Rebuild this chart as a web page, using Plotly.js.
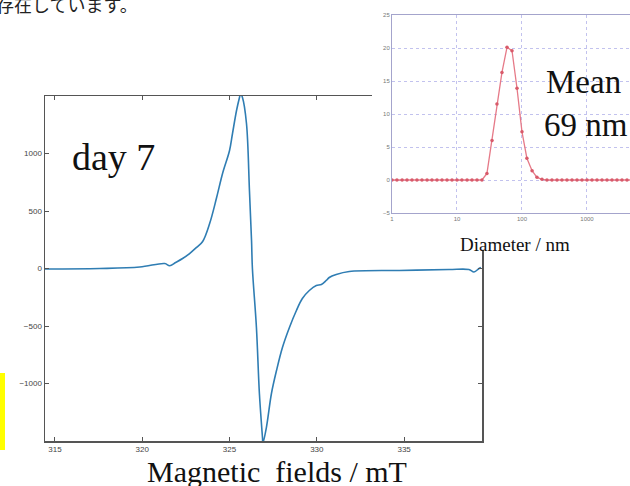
<!DOCTYPE html>
<html>
<head>
<meta charset="utf-8">
<script src="https://cdn.plot.ly/plotly-3.0.1.min.js"></script>
<style>html,body{margin:0;padding:0;background:#fff;}#chart{width:630px;height:486px;}</style>
</head>
<body>
<div id="chart"></div>
<script>
// Main EPR spectrum (day 7)
const fieldMT = [314.43, 317.57, 319.86, 321.29, 321.57, 321.91, 322.31, 322.71, 323.11, 323.46,
  323.86, 324.26, 324.6, 325.0, 325.17, 325.4, 325.57, 325.63, 325.74, 325.97,
  326.14, 326.26, 326.31, 326.54, 326.71, 326.89, 326.91, 327.11, 327.4, 327.69,
  328.03, 328.43, 328.83, 329.17, 329.57, 329.97, 330.26, 330.54, 330.71, 331.11,
  331.86, 334.71, 337.57, 338.71, 339.0, 339.29, 339.4];
const eprSignal = [-4, 0, 13, 43, 24, 52, 87, 130, 183, 235,
  391, 617, 826, 1026, 1174, 1374, 1487, 1520, 1487, 1261,
  678, 243, 0, -513, -1087, -1478, -1520, -1383, -1087, -887,
  -687, -513, -365, -261, -191, -148, -139, -104, -78, -52,
  -26, -17, -9, -9, -30, 0, 9];
const fieldTicks = [315, 320, 325, 330, 335];
const signalTicks = [-1000, -500, 0, 500, 1000];

// Inset: particle size distribution
const diameterNm = [1.00, 1.19, 1.43, 1.70, 2.03, 2.42, 2.89, 3.46, 4.12, 4.92,
  5.88, 7.02, 8.38, 10.0, 11.9, 14.3, 17.0, 20.3, 24.2, 28.9,
  34.6, 41.2, 49.2, 58.8, 70.2, 83.8, 100, 119, 143, 170,
  203, 242, 289, 346, 412, 492, 588, 702, 838, 1000,
  1194, 1425, 1701, 2031, 2424, 2894, 3455, 4125, 4924];
const distribution = [0, 0, 0, 0, 0, 0, 0, 0, 0, 0,
  0, 0, 0, 0, 0, 0, 0, 0, 0, 1.0,
  6.0, 11.5, 16.3, 20.1, 19.6, 13.9, 7.3, 3.3, 1.4, 0.4,
  0.1, 0, 0, 0, 0, 0, 0, 0, 0, 0,
  0, 0, 0, 0, 0, 0, 0, 0, 0];
const diameterTicks = [1, 10, 100, 1000];
const diameterTickText = ['1', '10', '100', '1000'];
const distTicks = [-5, 0, 5, 10, 15, 20, 25];

const W = 630, H = 486;
const px = v => v / W;
const py = v => 1 - v / H;

const traces = [
  {x: fieldMT, y: eprSignal, xaxis: 'x', yaxis: 'y', mode: 'lines',
   line: {color: '#2f7db3', width: 1.6, shape: 'spline', smoothing: 1.0}, hoverinfo: 'skip'},
  {x: [], y: [], xaxis: 'x2', yaxis: 'y2', mode: 'lines', hoverinfo: 'skip'},
  {x: diameterNm, y: distribution, xaxis: 'x3', yaxis: 'y3', mode: 'lines+markers',
   line: {color: '#e67a88', width: 1.3},
   marker: {symbol: 'circle', size: 3.5, color: '#d85a6a'}, hoverinfo: 'skip'}
];

const tickFont = {family: 'Liberation Sans, Arial, sans-serif', size: 8, color: '#444'};
const insetFont = {family: 'Liberation Sans, Arial, sans-serif', size: 6, color: '#777'};
const serif = 'Liberation Serif, Times New Roman, serif';

const layout = {
  width: W, height: H,
  margin: {l: 0, r: 0, t: 0, b: 0},
  paper_bgcolor: '#ffffff', plot_bgcolor: '#ffffff',
  showlegend: false,
  xaxis: {domain: [px(45), px(482)], range: [314.43, 339.46], anchor: 'y',
    tickvals: fieldTicks, ticks: 'inside', ticklen: 4, tickcolor: '#555', tickwidth: 1,
    showline: true, linecolor: '#555', linewidth: 1.5, mirror: 'ticks',
    showgrid: false, zeroline: false, tickfont: tickFont, automargin: false},
  yaxis: {domain: [py(441), py(96)], range: [-1500, 1500], anchor: 'x',
    tickvals: signalTicks, ticks: 'inside', ticklen: 4, tickcolor: '#555', tickwidth: 1,
    showline: true, linecolor: '#555', linewidth: 1.5, mirror: 'ticks',
    showgrid: false, zeroline: false, tickfont: tickFont, automargin: false},
  xaxis2: {domain: [px(372), 1], range: [0, 1], anchor: 'y2',
    showline: false, showgrid: false, zeroline: false, showticklabels: false, ticks: ''},
  yaxis2: {domain: [py(250), 1], range: [0, 1], anchor: 'x2',
    showline: false, showgrid: false, zeroline: false, showticklabels: false, ticks: ''},
  xaxis3: {domain: [px(392), 1], type: 'log', range: [0, 3.662], anchor: 'y3',
    tickvals: diameterTicks, ticktext: diameterTickText, ticks: '',
    showline: true, linecolor: '#a4a4cc', linewidth: 1, mirror: true,
    showgrid: true, gridcolor: '#c2c2ee', griddash: 'dot', gridwidth: 1,
    zeroline: false, tickfont: insetFont, automargin: false},
  yaxis3: {domain: [py(213), py(15)], range: [-5, 25], anchor: 'x3',
    tickvals: distTicks, ticks: '',
    showline: true, linecolor: '#a4a4cc', linewidth: 1, mirror: false,
    showgrid: true, gridcolor: '#c2c2ee', griddash: 'dot', gridwidth: 1,
    zeroline: false, tickfont: insetFont, automargin: false},
  shapes: [
    {type: 'rect', xref: 'paper', yref: 'paper', x0: 0, x1: px(5), y0: py(450), y1: py(373),
     fillcolor: '#ffff00', line: {width: 0}, layer: 'above'}
  ],
  annotations: [
    {text: 'が存在しています。', xref: 'paper', yref: 'paper', x: px(140), y: py(19),
     xanchor: 'right', yanchor: 'bottom', showarrow: false,
     font: {family: 'Noto Sans CJK JP', size: 18, color: '#222'}},
    {text: 'day 7', xref: 'paper', yref: 'paper', x: px(113), y: py(157),
     xanchor: 'center', yanchor: 'middle', showarrow: false,
     font: {family: serif, size: 38, color: '#111'}},
    {text: 'Mean', xref: 'paper', yref: 'paper', x: px(544), y: py(82),
     xanchor: 'left', yanchor: 'middle', showarrow: false,
     font: {family: serif, size: 33, color: '#111'}},
    {text: '69 nm', xref: 'paper', yref: 'paper', x: px(542), y: py(125),
     xanchor: 'left', yanchor: 'middle', showarrow: false,
     font: {family: serif, size: 33, color: '#111'}},
    {text: 'Diameter / nm', xref: 'paper', yref: 'paper', x: px(515), y: py(244),
     xanchor: 'center', yanchor: 'middle', showarrow: false,
     font: {family: serif, size: 19, color: '#111'}},
    {text: 'Magnetic\u00a0\u00a0fields / mT', xref: 'paper', yref: 'paper', x: px(277), y: py(471),
     xanchor: 'center', yanchor: 'middle', showarrow: false,
     font: {family: serif, size: 30, color: '#111'}}
  ]
};

Plotly.newPlot('chart', traces, layout, {displayModeBar: false, staticPlot: true});
</script>
</body>
</html>
